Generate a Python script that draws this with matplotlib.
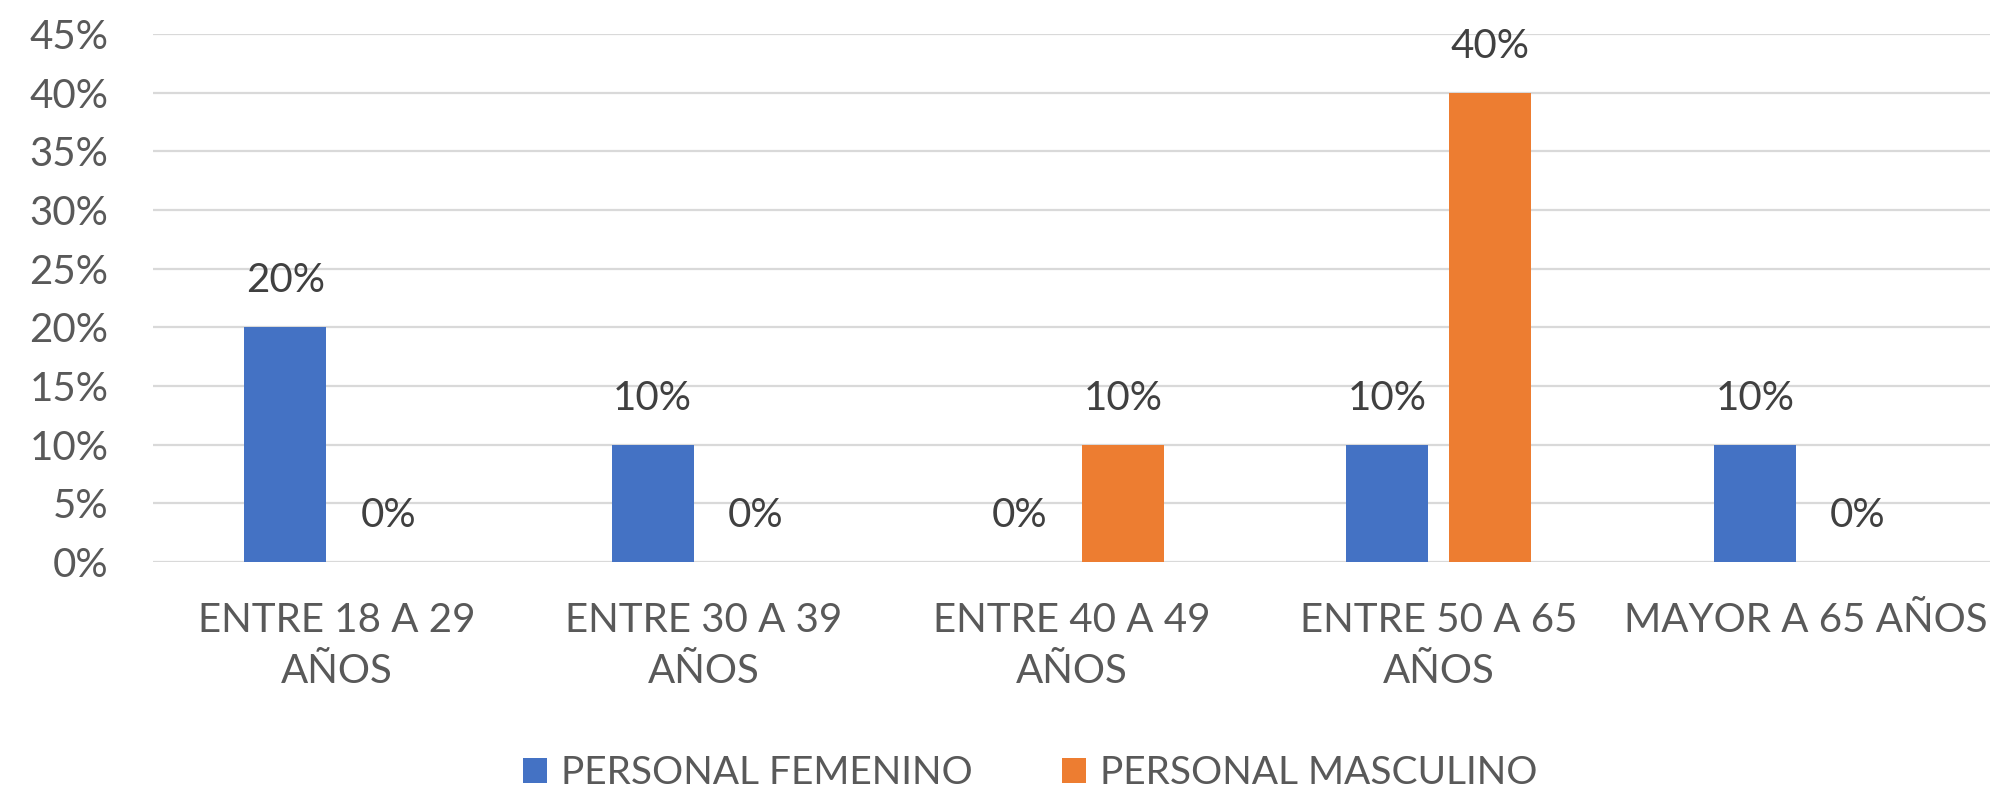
import matplotlib
matplotlib.use("Agg")
import matplotlib.pyplot as plt
import numpy as np
from matplotlib.ticker import PercentFormatter

categorias = ["ENTRE 18 A 29\nAÑOS", "ENTRE 30 A 39\nAÑOS", "ENTRE 40 A 49\nAÑOS",
              "ENTRE 50 A 65\nAÑOS", "MAYOR A 65 AÑOS"]
femenino = [0.20, 0.10, 0.00, 0.10, 0.10]
masculino = [0.00, 0.00, 0.10, 0.40, 0.00]
series = ["PERSONAL FEMENINO", "PERSONAL MASCULINO"]

plt.rcParams['font.family'] = ['Lato', 'DejaVu Sans']

AZUL = '#4472C4'
NARANJA = '#ED7D31'
GRIS_TXT = '#595959'
GRIS_LBL = '#404040'
GRID = '#D9D9D9'

fig = plt.figure(figsize=(19.94, 7.95), dpi=100)
ax = fig.add_axes([0.0767, 0.2931, 0.9213, 0.6641])

x = np.arange(len(categorias))
ancho = 0.223
desp = 0.14

b1 = ax.bar(x - desp, femenino, ancho, color=AZUL, label=series[0], zorder=3)
b2 = ax.bar(x + desp, masculino, ancho, color=NARANJA, label=series[1], zorder=3)

# etiquetas de datos
for barras in (b1, b2):
    for r in barras:
        h = r.get_height()
        ax.annotate(f"{h*100:.0f}%", (r.get_x() + r.get_width() / 2, h),
                    xytext=(0, 28), textcoords='offset pixels',
                    ha='center', va='bottom', fontsize=29, color=GRIS_LBL)

ax.set_xlim(-0.5, len(categorias) - 0.5)
ax.set_ylim(0, 0.45)
ax.set_yticks(np.arange(0, 0.46, 0.05))
ax.yaxis.set_major_formatter(PercentFormatter(1.0, decimals=0))
ax.set_xticks(x)
ax.set_xticklabels(categorias, linespacing=1.45)

ax.grid(axis='y', color=GRID, linewidth=1.6, zorder=0)
for s in ax.spines.values():
    s.set_visible(False)
ax.tick_params(axis='both', length=0, labelsize=29, colors=GRIS_TXT)
ax.tick_params(axis='y', pad=32)
ax.tick_params(axis='x', pad=29)

fig.legend(loc='center', bbox_to_anchor=(1030 / 1994, 1 - 773 / 795), ncol=2,
           frameon=False, fontsize=28, labelcolor=GRIS_TXT,
           handlelength=0.62, handleheight=0.62, handletextpad=0.35, columnspacing=2.3)

fig.savefig("out.png", dpi=100)
